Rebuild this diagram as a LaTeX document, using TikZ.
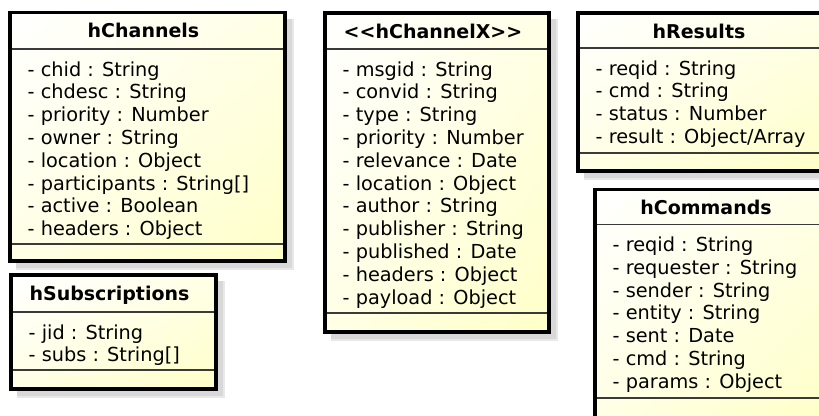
\documentclass[tikz,border=0pt]{standalone}
\usepackage{fontspec}
\usetikzlibrary{shadings}
\setmainfont{DejaVu Sans}
\definecolor{shadowgray}{HTML}{D8D8D8}
\definecolor{shadowlight}{HTML}{E8E8E8}
\definecolor{fillmid}{HTML}{FFFFE6}
\definecolor{fillend}{HTML}{FFFFC8}
\definecolor{sepgray}{HTML}{3A3A3A}
\tikzset{
  shadowouter/.style={fill=shadowlight, draw=none},
  shadowinner/.style={fill=shadowgray, draw=none},
  classbody/.style={upper left=white, upper right=fillmid, lower left=fillmid, lower right=fillend},
  classborder/.style={draw=black, line width=3.4pt},
  sepline/.style={draw=sepgray, line width=1.8pt},
  titletext/.style={font=\fontsize{19}{22}\selectfont\bfseries, anchor=base, inner sep=0pt},
  attrtext/.style={font=\fontsize{19.3}{22}\selectfont, anchor=base west, inner sep=0pt},
}
% #1 name, #2 left, #3 top, #4 right, #5 bottom, #6 header sep, #7 attr sep, #8 title, #9 attributes
\newcommand{\umlbox}[9]{%
  \fill[shadowouter] (#2+6,#3+6) rectangle (#4+9,#5+9);
  \fill[shadowinner] (#2+6,#3+6) rectangle (#4+7,#5+7);
  \shade[classbody] (#2,#3) rectangle (#4,#5);
  \draw[sepline] (#2,#6) -- (#4,#6);
  \draw[sepline] (#2,#7) -- (#4,#7);
  \draw[classborder] (#2,#3) rectangle (#4,#5);
  \node[titletext] (#1-title) at ({(#2+#4)/2-4},#3+25) {#8};
  \foreach \a [count=\i from 0] in {#9} {
    \node[attrtext] (#1-attr\i) at (#2+17.5,{#6+27+22.8*\i}) {\a};
  }
}
\begin{document}
\begin{tikzpicture}[x=1pt,y=-1pt]
\useasboundingbox (0,0) rectangle (819,415);
\clip (0,0) rectangle (819,415);
\fill[white] (0,0) rectangle (819,415);

\umlbox{channels}{10}{12.5}{285}{261}{49}{244}{hChannels}%
  {{- chid : String},{- chdesc : String},{- priority : Number},{- owner : String},{- location : Object},{- participants : String[]},{- active : Boolean},{- headers : Object}}

\umlbox{subs}{11}{275}{216}{389}{312}{370}{hSubscriptions}%
  {{- jid : String},{- subs : String[]}}

\umlbox{chx}{325}{13}{549}{332}{49}{313}{<{}<hChannelX>{}>}%
  {{- msgid : String},{- convid : String},{- type : String},{- priority : Number},{- relevance : Date},{- location : Object},{- author : String},{- publisher : String},{- published : Date},{- headers : Object},{- payload : Object}}

\umlbox{results}{578}{13}{828}{171}{48}{153}{hResults}%
  {{- reqid : String},{- cmd : String},{- status : Number},{- result : Object/Array}}

\umlbox{commands}{595}{189.5}{825}{418}{224.5}{398}{hCommands}%
  {{- reqid : String},{- requester : String},{- sender : String},{- entity : String},{- sent : Date},{- cmd : String},{- params : Object}}
\end{tikzpicture}
\end{document}
